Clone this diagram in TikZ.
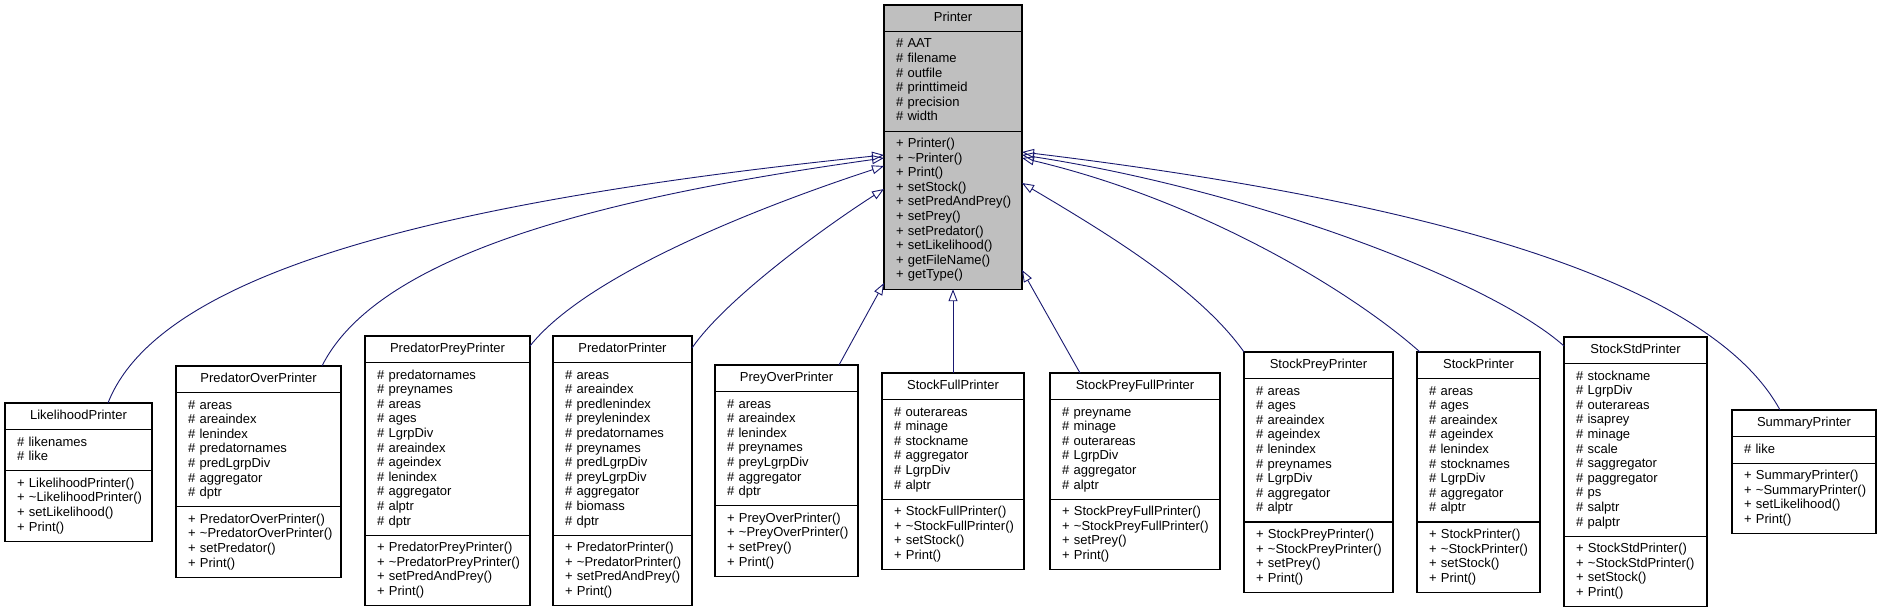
\documentclass[tikz,border=0pt]{standalone}
\usepackage{fontspec}
\setmainfont{Liberation Sans}
\usetikzlibrary{shapes.multipart,arrows.meta}
\definecolor{edgeblue}{HTML}{191970}
\definecolor{basegray}{HTML}{BFBFBF}
\newcommand{\rowstrut}{\rule[-4.2pt]{0pt}{14.6pt}}
\newcommand{\ctitle}[1]{\hbox to\hsize{\hss\rowstrut#1\hss}}
\newcommand{\attr}[1]{\noindent\hbox{\rowstrut\# #1}\par}
\newcommand{\op}[1]{\noindent\hbox{\rowstrut+ #1()}\par}
\newcommand{\dtor}{\textasciitilde}

\begin{document}
\begin{tikzpicture}[x=1pt,y=-1pt,
  umlclass/.style={rectangle split,rectangle split parts=3,draw=black,line width=1.2pt,
    fill=white,anchor=north west,align=left,inner xsep=12pt,inner ysep=5.4pt,outer sep=0pt,
    font=\fontsize{13}{14.6}\selectfont},
  baseclass/.style={umlclass,fill=basegray},
  inherit/.style={draw=edgeblue,line width=0.9pt,-{Triangle[open,length=12pt,width=9pt]}}]
  \path[fill=white,use as bounding box] (0,0) rectangle (1881,609);

  % base class
  \node[baseclass,text width=114pt] (printer) at (884,5) {\ctitle{Printer}
    \nodepart{two}\attr{AAT}\attr{filename}\attr{outfile}\attr{printtimeid}\attr{precision}\attr{width}
    \nodepart{three}\op{Printer}\op{\dtor Printer}\op{Print}\op{setStock}\op{setPredAndPrey}
    \op{setPrey}\op{setPredator}\op{setLikelihood}\op{getFileName}\op{getType}};

  % derived classes
  \node[umlclass,text width=123pt] (likelihood) at (5,403) {\ctitle{LikelihoodPrinter}
    \nodepart{two}\attr{likenames}\attr{like}
    \nodepart{three}\op{LikelihoodPrinter}\op{\dtor LikelihoodPrinter}\op{setLikelihood}\op{Print}};
  \node[umlclass,text width=141pt] (predover) at (176,366) {\ctitle{PredatorOverPrinter}
    \nodepart{two}\attr{areas}\attr{areaindex}\attr{lenindex}\attr{predatornames}\attr{predLgrpDiv}
    \attr{aggregator}\attr{dptr}
    \nodepart{three}\op{PredatorOverPrinter}\op{\dtor PredatorOverPrinter}\op{setPredator}\op{Print}};
  \node[umlclass,text width=141pt] (predprey) at (365,336) {\ctitle{PredatorPreyPrinter}
    \nodepart{two}\attr{predatornames}\attr{preynames}\attr{areas}\attr{ages}\attr{LgrpDiv}
    \attr{areaindex}\attr{ageindex}\attr{lenindex}\attr{aggregator}\attr{alptr}\attr{dptr}
    \nodepart{three}\op{PredatorPreyPrinter}\op{\dtor PredatorPreyPrinter}\op{setPredAndPrey}\op{Print}};
  \node[umlclass,text width=115pt] (predator) at (553,336) {\ctitle{PredatorPrinter}
    \nodepart{two}\attr{areas}\attr{areaindex}\attr{predlenindex}\attr{preylenindex}\attr{predatornames}
    \attr{preynames}\attr{predLgrpDiv}\attr{preyLgrpDiv}\attr{aggregator}\attr{biomass}\attr{dptr}
    \nodepart{three}\op{PredatorPrinter}\op{\dtor PredatorPrinter}\op{setPredAndPrey}\op{Print}};
  \node[umlclass,text width=119pt] (preyover) at (715,365) {\ctitle{PreyOverPrinter}
    \nodepart{two}\attr{areas}\attr{areaindex}\attr{lenindex}\attr{preynames}\attr{preyLgrpDiv}
    \attr{aggregator}\attr{dptr}
    \nodepart{three}\op{PreyOverPrinter}\op{\dtor PreyOverPrinter}\op{setPrey}\op{Print}};
  \node[umlclass,text width=118pt] (stockfull) at (882,373) {\ctitle{StockFullPrinter}
    \nodepart{two}\attr{outerareas}\attr{minage}\attr{stockname}\attr{aggregator}\attr{LgrpDiv}\attr{alptr}
    \nodepart{three}\op{StockFullPrinter}\op{\dtor StockFullPrinter}\op{setStock}\op{Print}};
  \node[umlclass,text width=146pt] (stockpreyfull) at (1050,373) {\ctitle{StockPreyFullPrinter}
    \nodepart{two}\attr{preyname}\attr{minage}\attr{outerareas}\attr{LgrpDiv}\attr{aggregator}\attr{alptr}
    \nodepart{three}\op{StockPreyFullPrinter}\op{\dtor StockPreyFullPrinter}\op{setPrey}\op{Print}};
  \node[umlclass,text width=125pt] (stockprey) at (1244,352) {\ctitle{StockPreyPrinter}
    \nodepart{two}\attr{areas}\attr{ages}\attr{areaindex}\attr{ageindex}\attr{lenindex}\attr{preynames}
    \attr{LgrpDiv}\attr{aggregator}\attr{alptr}
    \nodepart{three}\op{StockPreyPrinter}\op{\dtor StockPreyPrinter}\op{setPrey}\op{Print}};
  \node[umlclass,text width=99pt] (stock) at (1417,352) {\ctitle{StockPrinter}
    \nodepart{two}\attr{areas}\attr{ages}\attr{areaindex}\attr{ageindex}\attr{lenindex}\attr{stocknames}
    \attr{LgrpDiv}\attr{aggregator}\attr{alptr}
    \nodepart{three}\op{StockPrinter}\op{\dtor StockPrinter}\op{setStock}\op{Print}};
  \node[umlclass,text width=119pt] (stockstd) at (1564,337) {\ctitle{StockStdPrinter}
    \nodepart{two}\attr{stockname}\attr{LgrpDiv}\attr{outerareas}\attr{isaprey}\attr{minage}\attr{scale}
    \attr{saggregator}\attr{paggregator}\attr{ps}\attr{salptr}\attr{palptr}
    \nodepart{three}\op{StockStdPrinter}\op{\dtor StockStdPrinter}\op{setStock}\op{Print}};
  \node[umlclass,text width=120pt] (summary) at (1732,410) {\ctitle{SummaryPrinter}
    \nodepart{two}\attr{like}
    \nodepart{three}\op{SummaryPrinter}\op{\dtor SummaryPrinter}\op{setLikelihood}\op{Print}};

  % inheritance edges
  \draw[inherit] (likelihood.north -| 108,0) .. controls (160,270) and (450,200) .. (printer.west |- 0,155);
  \draw[inherit] (predover.north -| 322,0) .. controls (380,250) and (620,195) .. (printer.west |- 0,158);
  \draw[inherit] (predprey.east |- 0,346) .. controls (590,270) and (780,200) .. (printer.west |- 0,166);
  \draw[inherit] (predator.east |- 0,348) .. controls (725,300) and (820,230) .. (printer.west |- 0,189);
  \draw[inherit] (preyover.north -| 839,0) -- (printer.west |- 0,283);
  \draw[inherit] (stockfull.north -| printer.south) -- (printer.south);
  \draw[inherit] (stockpreyfull.north -| 1080,0) -- (printer.east |- 0,270);
  \draw[inherit] (stockprey.north west) .. controls (1200,290) and (1110,235) .. (printer.east |- 0,183);
  \draw[inherit] (stock.north -| 1420,0) .. controls (1350,290) and (1200,200) .. (printer.east |- 0,158);
  \draw[inherit] (stockstd.west |- 0,346) .. controls (1490,280) and (1250,190) .. (printer.east |- 0,155);
  \draw[inherit] (summary.north -| 1780,0) .. controls (1720,300) and (1500,210) .. (printer.east |- 0,152);
\end{tikzpicture}
\end{document}
